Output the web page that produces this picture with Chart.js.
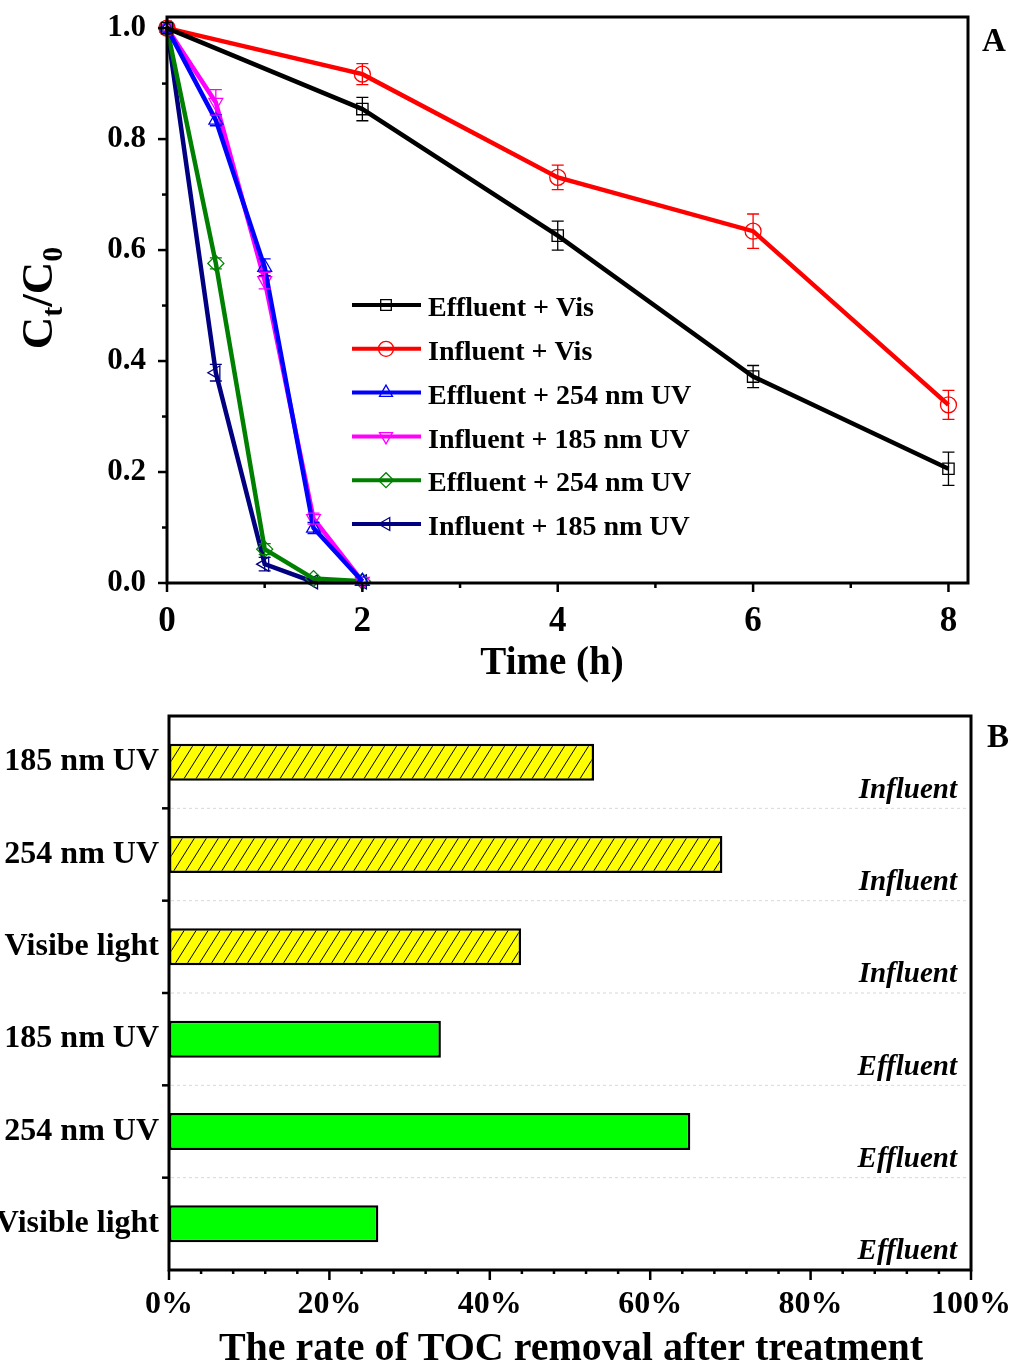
<!DOCTYPE html>
<html>
<head>
<meta charset="utf-8">
<script src="https://cdn.jsdelivr.net/npm/chart.js@4.4.1/dist/chart.umd.min.js"></script>
<style>
  html, body { margin: 0; padding: 0; background: #fff; }
  #boxA { position: absolute; left: 0; top: 0; width: 1015px; height: 690px; }
  #boxB { position: absolute; left: 0; top: 690px; width: 1015px; height: 679px; }
</style>
</head>
<body>
<div id="boxA"><canvas id="chartA" width="1015" height="690"></canvas></div>
<div id="boxB"><canvas id="chartB" width="1015" height="679"></canvas></div>
<script>
const SERIF = '"Liberation Serif", "Times New Roman", serif';

// ---- painel A: Ct/C0 x tempo ----
const hoursVis = [0, 2, 4, 6, 8];
const hoursUV = [0, 0.5, 1, 1.5, 2];
const effVis = [1.0, 0.854, 0.626, 0.372, 0.206];
const effVisErr = [0, 0.021, 0.026, 0.020, 0.030];
const infVis = [1.0, 0.917, 0.731, 0.634, 0.321];
const infVisErr = [0, 0.019, 0.022, 0.031, 0.026];
const eff254 = [1.0, 0.834, 0.569, 0.099, 0.003];
const eff254Err = [0, 0.010, 0.015, 0.010, 0];
const inf185 = [1.0, 0.866, 0.545, 0.116, 0.003];
const inf185Err = [0, 0.023, 0.015, 0.010, 0];
const eff254b = [1.0, 0.576, 0.061, 0.008, 0.003];
const eff254bErr = [0, 0.010, 0.010, 0, 0];
const inf185b = [1.0, 0.379, 0.034, 0.002, 0.002];
const inf185bErr = [0, 0.015, 0.012, 0, 0];
const seriesNames = ['Effluent + Vis', 'Influent + Vis', 'Effluent + 254 nm UV',
  'Influent + 185 nm UV', 'Effluent + 254 nm UV', 'Influent + 185 nm UV'];
const timeTicks = [0, 2, 4, 6, 8];
const timeMinor = [1, 3, 5, 7];
const ratioTicks = [0, 0.2, 0.4, 0.6, 0.8, 1.0];
const ratioMinor = [0.1, 0.3, 0.5, 0.7, 0.9];

// ---- painel B: remoção de TOC ----
const treatments = ['185 nm UV', '254 nm UV', 'Visibe light', '185 nm UV', '254 nm UV', 'Visible light'];
const waterType = ['Influent', 'Influent', 'Influent', 'Effluent', 'Effluent', 'Effluent'];
const tocRemoval = [53.0, 69.0, 43.9, 33.9, 65.0, 26.1];
const pctTicks = [0, 20, 40, 60, 80, 100];

const pts = (xs, ys) => xs.map((x, i) => ({ x, y: ys[i] }));
const serie = (label, xs, ys, errs, color, style, rot) => ({
  label, data: pts(xs, ys), errs, borderColor: color, pointBorderColor: color,
  backgroundColor: color, pointBackgroundColor: 'rgba(0,0,0,0)', borderWidth: 4.5,
  pointStyle: style, rotation: rot || 0, pointRadius: 8, pointBorderWidth: 1.3,
  pointHoverRadius: 8, tension: 0, clip: false,
});

const dsA = [
  serie(seriesNames[0], hoursVis, effVis, effVisErr, '#000000', 'rect'),
  serie(seriesNames[1], hoursVis, infVis, infVisErr, '#ff0000', 'circle'),
  serie(seriesNames[2], hoursUV, eff254, eff254Err, '#0000ff', 'triangle'),
  serie(seriesNames[3], hoursUV, inf185, inf185Err, '#ff00ff', 'triangle', 180),
  serie(seriesNames[4], hoursUV, eff254b, eff254bErr, '#008000', 'rectRot'),
  serie(seriesNames[5], hoursUV, inf185b, inf185bErr, '#000080', 'triangle', -90),
];

// sem sobra de rótulo nas bordas: a área do gráfico fica onde o layout manda
const noOverflow = (s) => { s.paddingTop = 0; s.paddingBottom = 0; s.paddingLeft = 0; s.paddingRight = 0; };

function ticksOut(ctx, sc, vals, len, horiz, edge) {
  vals.forEach(v => {
    const p = sc.getPixelForValue(v);
    ctx.beginPath();
    if (horiz) { ctx.moveTo(p, edge); ctx.lineTo(p, edge + len); }
    else { ctx.moveTo(edge, p); ctx.lineTo(edge - len, p); }
    ctx.stroke();
  });
}

const errBars = {
  id: 'errBars',
  afterDatasetsDraw(chart) {
    const ctx = chart.ctx, x = chart.scales.x, y = chart.scales.y;
    ctx.save();
    chart.data.datasets.forEach(ds => {
      if (!ds.errs) return;
      ctx.strokeStyle = ds.borderColor; ctx.lineWidth = 1.3;
      ds.data.forEach((p, i) => {
        const e = ds.errs[i];
        if (!e) return;
        const px = x.getPixelForValue(p.x), y1 = y.getPixelForValue(p.y + e), y2 = y.getPixelForValue(p.y - e);
        ctx.beginPath();
        ctx.moveTo(px, y1); ctx.lineTo(px, y2);
        ctx.moveTo(px - 6, y1); ctx.lineTo(px + 6, y1);
        ctx.moveTo(px - 6, y2); ctx.lineTo(px + 6, y2);
        ctx.stroke();
      });
    });
    ctx.restore();
  },
};

const decorA = {
  id: 'decorA',
  afterDraw(chart) {
    const ctx = chart.ctx, a = chart.chartArea, x = chart.scales.x, y = chart.scales.y;
    ctx.save();
    ctx.strokeStyle = '#000'; ctx.lineWidth = 3;
    ctx.strokeRect(a.left, a.top, a.right - a.left, a.bottom - a.top);
    ctx.lineWidth = 2.5;
    ticksOut(ctx, x, timeTicks, 9, true, a.bottom);
    ticksOut(ctx, x, timeMinor, 5, true, a.bottom);
    ticksOut(ctx, y, ratioTicks, 9, false, a.left);
    ticksOut(ctx, y, ratioMinor, 5, false, a.left);

    // legenda
    chart.data.datasets.forEach((ds, i) => {
      const ry = 305 + i * 43.8;
      ctx.strokeStyle = ds.borderColor; ctx.lineWidth = 4;
      ctx.beginPath(); ctx.moveTo(352, ry); ctx.lineTo(421, ry); ctx.stroke();
      ctx.fillStyle = 'rgba(0,0,0,0)'; ctx.lineWidth = 1.3;
      Chart.helpers.drawPoint(ctx, { pointStyle: ds.pointStyle, rotation: ds.rotation, radius: 7.5, borderWidth: 1.3 }, 386, ry);
      ctx.fillStyle = '#000'; ctx.font = 'bold 28px ' + SERIF;
      ctx.textAlign = 'left'; ctx.textBaseline = 'middle';
      ctx.fillText(ds.label, 428, ry + 4);
    });

    ctx.fillStyle = '#000'; ctx.textAlign = 'center'; ctx.textBaseline = 'middle';
    ctx.font = 'bold 39px ' + SERIF;
    ctx.fillText('Time (h)', 552, 664);
    ctx.font = 'bold 33px ' + SERIF;
    ctx.fillText('A', 994, 42);

    // Ct/C0 girado
    ctx.translate(37, 298); ctx.rotate(-Math.PI / 2);
    const big = 'bold 45px ' + SERIF, small = 'bold 30px ' + SERIF;
    const parts = [['C', big, 0], ['t', small, 10], ['/', big, 0], ['C', big, 0], ['0', small, 10]];
    let w = 0;
    parts.forEach(p => { ctx.font = p[1]; w += ctx.measureText(p[0]).width; });
    let cx = -w / 2;
    ctx.textAlign = 'left'; ctx.textBaseline = 'alphabetic';
    parts.forEach(p => { ctx.font = p[1]; ctx.fillText(p[0], cx, 15 + p[2]); cx += ctx.measureText(p[0]).width; });
    ctx.restore();
  },
};

new Chart(document.getElementById('chartA'), {
  type: 'line',
  data: { datasets: dsA },
  options: {
    responsive: false, devicePixelRatio: 1, animation: false,
    layout: { padding: { top: 17, right: 47, left: 0, bottom: 0 } },
    plugins: { legend: { display: false }, tooltip: { enabled: false } },
    scales: {
      x: {
        type: 'linear', min: 0, max: 8.2,
        afterBuildTicks: s => { s.ticks = timeTicks.map(v => ({ value: v })); },
        afterFit: s => { s.height = 107; noOverflow(s); },
        grid: { display: false, drawTicks: false }, border: { display: false },
        ticks: { color: '#000', font: { family: SERIF, size: 35, weight: 'bold' }, padding: 18, maxRotation: 0 },
      },
      y: {
        type: 'linear', min: 0, max: 1.02,
        afterBuildTicks: s => { s.ticks = ratioTicks.map(v => ({ value: v })); },
        afterFit: s => { s.width = 167; noOverflow(s); },
        grid: { display: false, drawTicks: false }, border: { display: false },
        ticks: { color: '#000', font: { family: SERIF, size: 31, weight: 'bold' }, padding: 21, callback: v => v.toFixed(1) },
      },
    },
  },
  plugins: [errBars, decorA],
});

// hachura amarela
function hatch() {
  const c = document.createElement('canvas');
  c.width = 12; c.height = 19;
  const g = c.getContext('2d');
  g.fillStyle = '#ffff00'; g.fillRect(0, 0, 12, 19);
  g.strokeStyle = '#000'; g.lineWidth = 1;
  g.beginPath();
  [-12, 0, 12].forEach(o => { g.moveTo(o, 19); g.lineTo(o + 12, 0); });
  g.stroke();
  return g.createPattern(c, 'repeat');
}

const decorB = {
  id: 'decorB',
  afterDraw(chart) {
    const ctx = chart.ctx, a = chart.chartArea, x = chart.scales.x, y = chart.scales.y;
    ctx.save();
    ctx.strokeStyle = '#000'; ctx.lineWidth = 3;
    ctx.strokeRect(a.left, a.top, a.right - a.left, a.bottom - a.top);
    ctx.lineWidth = 2.5;
    ticksOut(ctx, x, pctTicks, 10, true, a.bottom);
    const minor = [];
    for (let i = 0; i < pctTicks.length - 1; i++) for (let k = 1; k < 5; k++) minor.push(pctTicks[i] + k * 4);
    ticksOut(ctx, x, minor, 4, true, a.bottom);

    const bounds = [];
    for (let i = 0; i < treatments.length - 1; i++) bounds.push((y.getPixelForValue(i) + y.getPixelForValue(i + 1)) / 2);
    bounds.forEach(by => {
      ctx.strokeStyle = '#000'; ctx.lineWidth = 2.5; ctx.setLineDash([]);
      ctx.beginPath(); ctx.moveTo(a.left, by); ctx.lineTo(a.left - 7, by); ctx.stroke();
      ctx.strokeStyle = '#d8d8d8'; ctx.lineWidth = 1; ctx.setLineDash([3, 3]);
      ctx.beginPath(); ctx.moveTo(a.left + 2, by); ctx.lineTo(a.right - 2, by); ctx.stroke();
    });
    ctx.setLineDash([]);

    ctx.fillStyle = '#000';
    ctx.font = 'italic bold 29px ' + SERIF; ctx.textAlign = 'right'; ctx.textBaseline = 'middle';
    waterType.forEach((t, i) => ctx.fillText(t, 957, y.getPixelForValue(i) + 28));

    ctx.textAlign = 'center';
    ctx.font = 'bold 40px ' + SERIF;
    ctx.fillText('The rate of TOC removal after treatment', 571, 660);
    ctx.font = 'bold 33px ' + SERIF;
    ctx.fillText('B', 998, 48);
    ctx.restore();
  },
};

new Chart(document.getElementById('chartB'), {
  type: 'bar',
  data: {
    labels: treatments,
    datasets: [{
      data: tocRemoval,
      backgroundColor: waterType.map(t => t === 'Influent' ? hatch() : '#00ff00'),
      borderColor: '#000', borderWidth: 2.5, borderSkipped: false,
      barPercentage: 0.4, categoryPercentage: 1,
    }],
  },
  options: {
    indexAxis: 'y', responsive: false, devicePixelRatio: 1, animation: false,
    layout: { padding: { top: 26, right: 44, left: 0, bottom: 0 } },
    plugins: { legend: { display: false }, tooltip: { enabled: false } },
    scales: {
      x: {
        min: 0, max: 100,
        afterBuildTicks: s => { s.ticks = pctTicks.map(v => ({ value: v })); },
        afterFit: s => { s.height = 99; noOverflow(s); },
        grid: { display: false, drawTicks: false }, border: { display: false },
        ticks: { color: '#000', font: { family: SERIF, size: 32, weight: 'bold' }, padding: 16, maxRotation: 0, callback: v => v + '%' },
      },
      y: {
        afterFit: s => { s.width = 169; noOverflow(s); },
        grid: { display: false, drawTicks: false }, border: { display: false },
        ticks: { color: '#000', font: { family: SERIF, size: 32, weight: 'bold' }, padding: 10, autoSkip: false },
      },
    },
  },
  plugins: [decorB],
});
</script>
</body>
</html>
